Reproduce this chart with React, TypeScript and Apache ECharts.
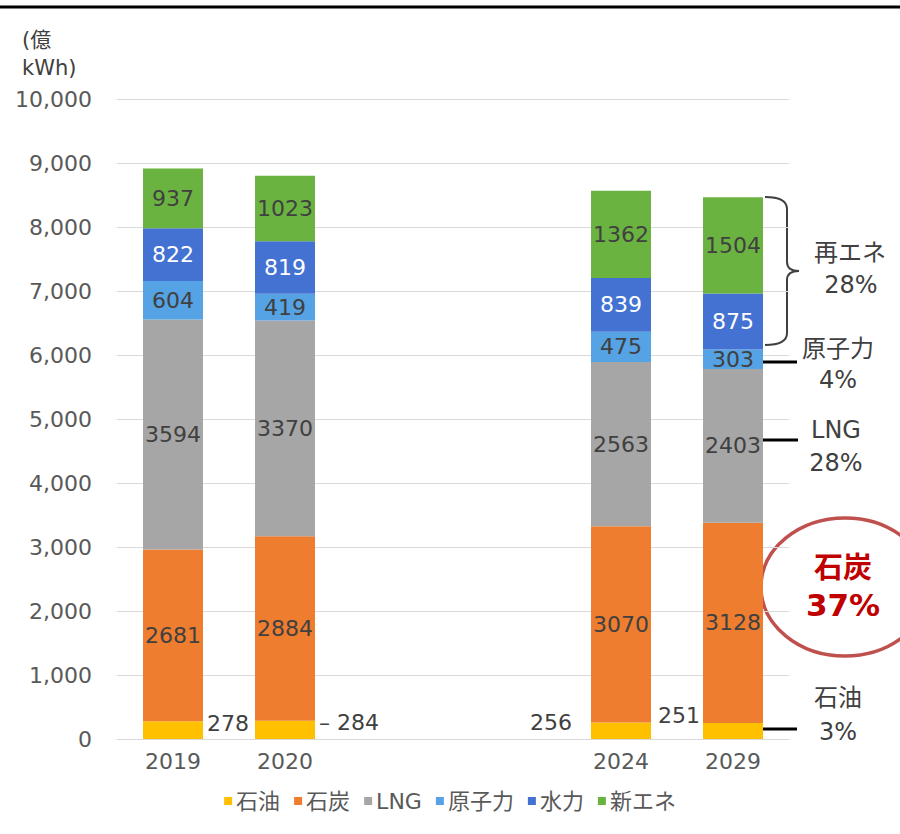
import React, { useEffect, useRef } from "react";
import * as echarts from "echarts";

const categories = ["2019", "2020", " ", "  ", "2024", "2029"];
const seriesNames = ["石油", "石炭", "LNG", "原子力", "水力", "新エネ"];
const oil = [278, 284, null, null, 256, 251];
const coal = [2681, 2884, null, null, 3070, 3128];
const lng = [3594, 3370, null, null, 2563, 2403];
const nuclear = [604, 419, null, null, 475, 303];
const hydro = [822, 819, null, null, 839, 875];
const renew = [937, 1023, null, null, 1362, 1504];
const colors = ["#FFC000", "#EE7D30", "#A6A6A6", "#55A2E4", "#4472D2", "#6BB341"];
const yTicks = [0, 10000, 1000];
const shareLabels = [
  { name: "再エネ", pct: "28%" },
  { name: "原子力", pct: "4%" },
  { name: "LNG", pct: "28%" },
  { name: "石炭", pct: "37%" },
  { name: "石油", pct: "3%" },
];

const FONT = "'DejaVu Sans', 'Noto Sans CJK JP', sans-serif";

echarts.graphic.registerShape(
  "brace",
  echarts.graphic.extendPath(
    "M765 197 Q787 197 787 209 L787 262 Q787 271 799 271 Q787 271 787 280 L787 333 Q787 345 765 345",
    {}
  )
);

export default function App() {
  const ref = useRef<HTMLDivElement>(null);
  useEffect(() => {
    if (!ref.current) return;
    const chart = echarts.init(ref.current, null, { renderer: "svg" });
    const allData = [oil, coal, lng, nuclear, hydro, renew];
    const labelColors = ["#404040", "#404040", "#404040", "#404040", "#ffffff", "#404040"];

    const oilData = oil.map((v, i) => {
      if (v == null) return null;
      const lbl: any = { show: true, color: "#404040", fontSize: 22, fontFamily: FONT };
      if (i === 0) Object.assign(lbl, { position: "right", distance: 4, offset: [0, -7] });
      if (i === 1) Object.assign(lbl, { position: "right", distance: 4, offset: [0, -7], formatter: "– {c}" });
      if (i === 4) Object.assign(lbl, { position: "left", distance: 19, offset: [0, -8] });
      if (i === 5) Object.assign(lbl, { position: "left", distance: 3, offset: [0, -15] });
      return { value: v, label: lbl };
    });

    const series = seriesNames.map((name, si) => ({
      name,
      type: "bar",
      stack: "total",
      barWidth: 60,
      itemStyle: { color: colors[si] },
      label:
        si === 0
          ? { show: true }
          : {
              show: true,
              position: "inside",
              color: labelColors[si],
              fontSize: 22,
              fontFamily: FONT,
            },
      data: si === 0 ? oilData : allData[si],
    }));

    const textStyleBase = { fill: "#404040", font: `24px ${FONT}`, textAlign: "center", textVerticalAlign: "middle" };

    chart.setOption({
      animation: false,
      backgroundColor: "#ffffff",
      textStyle: { fontFamily: FONT },
      grid: { left: 117, right: 111, top: 99, bottom: 95, containLabel: false },
      legend: {
        bottom: 17,
        left: "center",
        icon: "rect",
        itemWidth: 8,
        itemHeight: 8,
        itemGap: 14,
        textStyle: { color: "#595959", fontSize: 22, fontFamily: FONT, padding: [0, 0, 0, -1] },
        data: seriesNames,
      },
      xAxis: {
        type: "category",
        data: categories,
        axisLine: { lineStyle: { color: "#D9D9D9" } },
        axisTick: { show: false },
        axisLabel: { color: "#595959", fontSize: 22, fontFamily: FONT, margin: 11 },
      },
      yAxis: {
        type: "value",
        min: yTicks[0],
        max: yTicks[1],
        interval: yTicks[2],
        axisLine: { show: false },
        axisTick: { show: false },
        splitLine: { lineStyle: { color: "#D9D9D9" } },
        axisLabel: {
          color: "#595959",
          fontSize: 22,
          fontFamily: FONT,
          margin: 25,
          formatter: (v: number) => v.toLocaleString("en-US"),
        },
      },
      series,
      graphic: [
        { type: "line", shape: { x1: 0, y1: 7, x2: 900, y2: 7 }, style: { stroke: "#000", lineWidth: 3 } },
        { type: "text", left: 22, top: 26, style: { text: "(億\nkWh)", fill: "#404040", font: `21px ${FONT}`, lineHeight: 28 } },
        { type: "brace", x: 0, y: 0, style: { stroke: "#404040", fill: "none", lineWidth: 2 } },
        { type: "text", x: 850, y: 253, style: { ...textStyleBase, text: shareLabels[0].name } },
        { type: "text", x: 851, y: 285, style: { ...textStyleBase, text: shareLabels[0].pct } },
        { type: "line", shape: { x1: 763, y1: 362, x2: 797, y2: 362 }, style: { stroke: "#000", lineWidth: 3 } },
        { type: "text", x: 838, y: 349, style: { ...textStyleBase, text: shareLabels[1].name } },
        { type: "text", x: 838, y: 380, style: { ...textStyleBase, text: shareLabels[1].pct } },
        { type: "line", shape: { x1: 763, y1: 440, x2: 798, y2: 440 }, style: { stroke: "#000", lineWidth: 3 } },
        { type: "text", x: 836, y: 430, style: { ...textStyleBase, text: shareLabels[2].name } },
        { type: "text", x: 836, y: 463, style: { ...textStyleBase, text: shareLabels[2].pct } },
        {
          type: "ellipse",
          shape: { cx: 845, cy: 587, rx: 84, ry: 69 },
          style: { stroke: "#C0504D", lineWidth: 3.5, fill: "#ffffff" },
        },
        {
          type: "text",
          x: 843,
          y: 568,
          style: { ...textStyleBase, fill: "#C00000", font: `bold 29px ${FONT}`, text: shareLabels[3].name },
        },
        {
          type: "text",
          x: 843,
          y: 605,
          style: { ...textStyleBase, fill: "#C00000", font: `bold 31px ${FONT}`, text: shareLabels[3].pct },
        },
        { type: "line", shape: { x1: 763, y1: 729, x2: 797, y2: 729 }, style: { stroke: "#000", lineWidth: 3 } },
        { type: "text", x: 838, y: 698, style: { ...textStyleBase, text: shareLabels[4].name } },
        { type: "text", x: 838, y: 732, style: { ...textStyleBase, text: shareLabels[4].pct } },
      ],
    });
    return () => chart.dispose();
  }, []);
  return <div ref={ref} style={{ position: "fixed", left: 0, top: 0, width: 900, height: 834 }} />;
}
